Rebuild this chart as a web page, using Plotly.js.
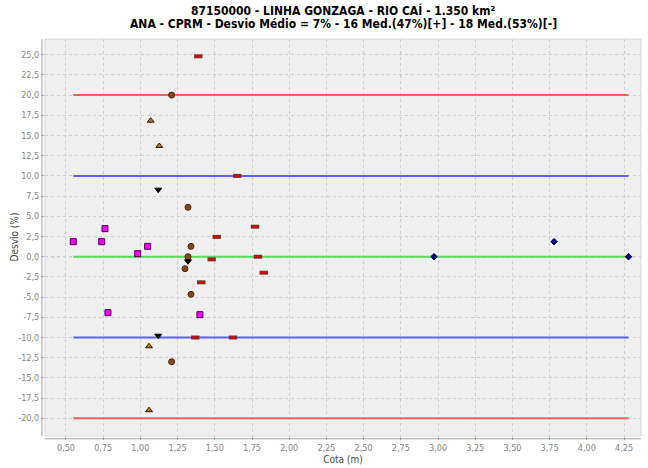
<!DOCTYPE html>
<html>
<head>
<meta charset="utf-8">
<script src="https://cdn.plot.ly/plotly-3.0.1.min.js"></script>
<style>
  html, body { margin: 0; padding: 0; background: #ffffff; }
  #chart { width: 648px; height: 468px; }
</style>
</head>
<body>
<div id="chart"></div>
<script>
// Cota (m) x Desvio (%) for each group of discharge measurements
const cotaVermelho = [1.389, 1.651, 1.770, 1.513, 1.479, 1.790, 1.829, 1.409, 1.369, 1.622];
const desvioVermelho = [24.8, 10.0, 3.71, 2.45, -0.33, 0.0, -1.98, -3.17, -10.0, -10.0];

const cotaMarrom = [1.210, 1.320, 1.340, 1.320, 1.300, 1.340, 1.210];
const desvioMarrom = [20.0, 6.11, 1.28, 0.0, -1.48, -4.66, -13.0];

const cotaTriCima = [1.069, 1.127, 1.058, 1.058];
const desvioTriCima = [16.83, 13.7, -11.09, -19.0];

const cotaTriBaixo = [1.120, 1.320, 1.120];
const desvioTriBaixo = [8.29, -0.57, -9.78];

const cotaMagenta = [0.762, 0.549, 0.740, 1.049, 0.982, 0.782, 1.400];
const desvioMagenta = [3.47, 1.86, 1.86, 1.28, 0.37, -6.93, -7.18];

const cotaAzul = [2.973, 3.780, 4.280];
const desvioAzul = [0.0, 1.86, 0.0];

// Tolerance bands (%)
const limiteExterno = 20;
const limiteInterno = 10;

// Axis ticks
const ticksDesvio = [-20, -17.5, -15, -12.5, -10, -7.5, -5, -2.5, 0, 2.5, 5, 7.5, 10, 12.5, 15, 17.5, 20, 22.5, 25];
const ticksCota = [0.5, 0.75, 1.0, 1.25, 1.5, 1.75, 2.0, 2.25, 2.5, 2.75, 3.0, 3.25, 3.5, 3.75, 4.0, 4.25];

const titulo1 = '87150000 - LINHA GONZAGA - RIO CAÍ - 1.350 km²';
const titulo2 = 'ANA - CPRM - Desvio Médio = 7% - 16 Med.(47%)[+] - 18 Med.(53%)[-]';

const fmt = (v, d) => v.toFixed(d).replace('.', ',');

const todasCotas = [].concat(cotaVermelho, cotaMarrom, cotaTriCima, cotaTriBaixo, cotaMagenta, cotaAzul);
const cotaMin = Math.min(...todasCotas);
const cotaMax = Math.max(...todasCotas);
const faixa = [cotaMin, cotaMax];

function linhaRef(y, color) {
  return {
    x: faixa, y: [y, y], mode: 'lines', type: 'scatter', hoverinfo: 'skip',
    line: { color: color, width: 2 }, showlegend: false
  };
}

const traces = [
  linhaRef(limiteExterno, 'rgba(255,70,70,0.85)'),
  linhaRef(-limiteExterno, 'rgba(255,70,70,0.85)'),
  linhaRef(limiteInterno, 'rgba(70,70,255,0.85)'),
  linhaRef(-limiteInterno, 'rgba(70,70,255,0.85)'),
  linhaRef(0, 'rgba(60,220,60,0.85)'),
  // red bars: dark outline + red core
  { x: cotaVermelho, y: desvioVermelho, mode: 'markers', type: 'scatter', showlegend: false,
    marker: { symbol: 'line-ew', size: 6, line: { width: 4, color: '#7a3030' } } },
  { x: cotaVermelho, y: desvioVermelho, mode: 'markers', type: 'scatter', showlegend: false,
    marker: { symbol: 'line-ew', size: 4, line: { width: 2, color: '#e00000' } } },
  { x: cotaMarrom, y: desvioMarrom, mode: 'markers', type: 'scatter', showlegend: false,
    marker: { symbol: 'circle', size: 6, color: '#8b4513', line: { width: 1, color: '#4a2a14' } } },
  { x: cotaTriCima, y: desvioTriCima, mode: 'markers', type: 'scatter', showlegend: false,
    marker: { symbol: 'triangle-up', size: 6, color: '#b07a22', line: { width: 1, color: '#2a1a00' } } },
  { x: cotaTriBaixo, y: desvioTriBaixo, mode: 'markers', type: 'scatter', showlegend: false,
    marker: { symbol: 'triangle-down', size: 6, color: '#000000', line: { width: 1, color: '#000000' } } },
  { x: cotaMagenta, y: desvioMagenta, mode: 'markers', type: 'scatter', showlegend: false,
    marker: { symbol: 'square', size: 6, color: '#ff00ff', line: { width: 1, color: '#4a004a' } } },
  { x: cotaAzul, y: desvioAzul, mode: 'markers', type: 'scatter', showlegend: false,
    marker: { symbol: 'diamond', size: 5, color: '#000080', line: { width: 1, color: '#000040' } } }
];

const fonte = 'DejaVu Sans Condensed, DejaVu Sans, sans-serif';
const tickFont = { family: fonte, size: 9, color: '#858585' };

const layout = {
  width: 648, height: 468,
  paper_bgcolor: '#ffffff',
  plot_bgcolor: '#efefef',
  margin: { l: 45, r: 7, t: 39, b: 32 },
  xaxis: {
    range: [0.359, 4.364],
    tickvals: ticksCota, ticktext: ticksCota.map(v => fmt(v, 2)),
    tickfont: tickFont,
    ticks: 'outside', ticklen: 3, tickcolor: '#aaaaaa',
    showgrid: true, gridcolor: '#cfcfcf', griddash: 'dot', gridwidth: 1,
    zeroline: false, showline: false,
    title: { text: 'Cota (m)', font: { family: fonte, size: 10, color: '#444444' }, standoff: 4 }
  },
  yaxis: {
    range: [-22.19, 26.94],
    tickvals: ticksDesvio, ticktext: ticksDesvio.map(v => fmt(v, 1)),
    tickfont: tickFont,
    ticks: 'outside', ticklen: 3, tickcolor: '#aaaaaa',
    showgrid: true, gridcolor: '#cfcfcf', griddash: 'dot', gridwidth: 1,
    zeroline: false, showline: false
  },
  annotations: [
    { text: '<b>' + titulo1 + '</b>', xref: 'paper', yref: 'paper', x: 0.5, y: 1.073,
      xanchor: 'center', yanchor: 'middle', showarrow: false,
      font: { family: fonte, size: 12, color: '#000000' } },
    { text: '<b>' + titulo2 + '</b>', xref: 'paper', yref: 'paper', x: 0.5, y: 1.038,
      xanchor: 'center', yanchor: 'middle', showarrow: false,
      font: { family: fonte, size: 12, color: '#000000' } },
    { text: 'Desvio (%)', xref: 'paper', yref: 'paper', x: -0.052, y: 0.5, textangle: -90,
      xanchor: 'center', yanchor: 'middle', showarrow: false,
      font: { family: fonte, size: 10, color: '#444444' } }
  ],
  shapes: [
    // dotted zero marker across the plot
    { type: 'line', xref: 'paper', yref: 'y', x0: 0, x1: 1, y0: 0, y1: 0,
      line: { color: '#8c8cff', width: 1, dash: 'dot' }, layer: 'below' },
    // plot border
    { type: 'rect', xref: 'paper', yref: 'paper', x0: 0, x1: 1, y0: 0, y1: 1,
      line: { color: '#d8d8d8', width: 1 }, layer: 'below' },
    // offset axis lines
    { type: 'line', xref: 'paper', yref: 'paper', x0: -0.005, x1: -0.005, y0: 0, y1: 1,
      line: { color: '#a0a0a0', width: 1 } },
    { type: 'line', xref: 'paper', yref: 'paper', x0: 0, x1: 1, y0: -0.007, y1: -0.007,
      line: { color: '#a0a0a0', width: 1 } }
  ]
};

Plotly.newPlot('chart', traces, layout, { displayModeBar: false, staticPlot: true });
</script>
</body>
</html>
